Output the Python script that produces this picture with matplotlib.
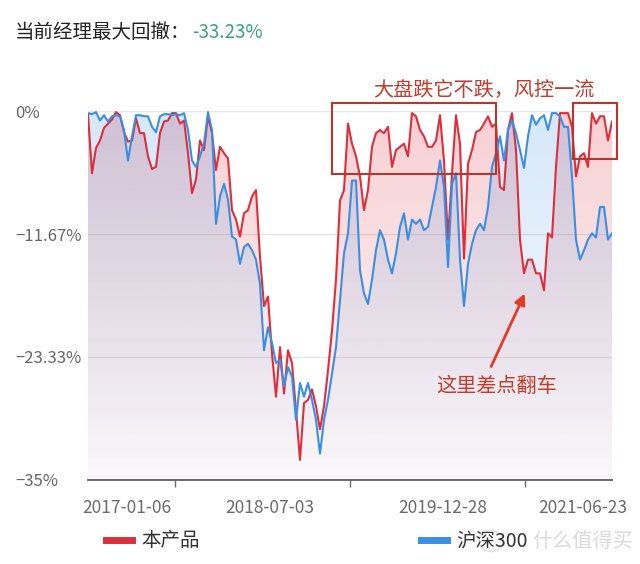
import numpy as np
import matplotlib
matplotlib.use('Agg')
import matplotlib.pyplot as plt
import matplotlib.colors as mcolors
from matplotlib.patches import Rectangle, FancyArrowPatch, Circle

# 中文字体 + 后备字体
plt.rcParams['font.family'] = ['Noto Sans CJK SC', 'DejaVu Sans']

# 回撤数据(%)：本产品 / 沪深300，按时间顺序等间隔读取
product_dd = [
    -0.3, -5.9, -3.5, -2.8, -1.6, -1.2, -0.8, -0.1, -0.4, -2.0,
    -2.9, -2.8, -0.7, -2.1, -2.1, -4.3, -5.5, -5.3, -2.1, -1.0,
    -0.9, -0.2, -0.2, -1.2, -0.9, -4.0, -7.8, -6.5, -2.8, -3.7,
    -0.5, -2.1, -5.6, -3.4, -4.0, -4.5, -9.4, -10.3, -11.9, -9.7,
    -9.4, -8.1, -7.5, -13.8, -18.5, -17.6, -23.0, -27.1, -22.4, -26.8,
    -22.7, -23.9, -28.4, -33.1, -27.7, -27.4, -26.4, -28.0, -30.2, -28.0,
    -24.6, -20.8, -16.0, -8.5, -7.5, -1.2, -3.1, -4.3, -6.2, -9.4,
    -7.5, -3.4, -2.1, -1.8, -2.1, -1.5, -5.3, -3.7, -3.4, -3.1,
    -4.3, -0.2, -0.5, -1.8, -2.4, -3.4, -3.4, -2.8, -0.4, -4.7,
    -12.2, -5.9, -0.4, -3.1, -14.0, -5.0, -3.7, -2.0, -1.8, -1.2,
    -0.5, -1.5, -1.2, -7.2, -7.5, -1.8, -0.2, -3.7, -12.2, -15.4,
    -14.1, -14.1, -15.4, -15.4, -17.0, -11.6, -12.0, -5.3, -0.2, -0.2,
    -0.2, -1.5, -6.2, -4.3, -4.0, -5.3, -0.2, -1.2, -0.5, -0.5,
    -2.8, -1.0,
]
hs300_dd = [
    -0.2, -0.3, -0.1, -0.9, -0.4, -1.0, -0.5, -0.4, -0.5, -1.8,
    -4.7, -2.4, -0.4, -0.4, -0.5, -0.5, -1.5, -2.0, -0.5, -0.3,
    -0.3, -0.4, -0.3, -0.4, -0.2, -1.8, -4.7, -5.3, -4.3, -3.1,
    -0.1, -1.8, -10.7, -8.1, -6.9, -8.4, -11.9, -12.2, -14.5, -12.9,
    -12.6, -13.2, -14.1, -16.4, -22.7, -20.5, -22.0, -23.9, -23.6, -26.1,
    -24.3, -25.2, -29.3, -25.8, -27.1, -25.8, -27.4, -29.3, -32.5, -29.3,
    -27.4, -24.9, -22.4, -17.9, -13.5, -11.6, -6.6, -6.6, -15.1, -17.3,
    -18.3, -16.0, -13.2, -11.3, -12.2, -14.1, -15.4, -13.5, -11.0, -9.7,
    -12.2, -10.3, -10.7, -10.3, -11.3, -11.0, -9.1, -7.2, -4.7, -7.2,
    -14.8, -6.9, -5.9, -14.1, -18.5, -14.5, -12.6, -11.3, -10.7, -11.3,
    -9.1, -5.3, -4.0, -2.4, -4.7, -1.8, -0.9, -2.1, -3.7, -5.4,
    -2.4, -0.4, -1.3, -0.7, -0.4, -1.8, -0.2, -0.2, -0.5, -1.5,
    -1.5, -6.2, -12.2, -14.1, -13.2, -12.2, -11.6, -12.0, -9.1, -9.1,
    -12.2, -11.6,
]
date_labels = ['2017-01-06', '2018-07-03', '2019-12-28', '2021-06-23']
y_ticks = [0, -11.67, -23.33, -35]
y_labels = ['0%', '\u221211.67%', '\u221223.33%', '\u221235%']
series_names = ['本产品', '沪深300']
red = '#dc2f3c'
blue = '#3a8fe4'
Y_MIN = -35


def gradient_fill(ax, x, y, color, a_top, a_bot):
    # 线下方到底部的渐变填充
    poly = ax.fill_between(x, y, Y_MIN, facecolor='none', edgecolor='none')
    grad = np.zeros((200, 1, 4))
    grad[:, :, :3] = mcolors.to_rgb(color)
    grad[:, 0, 3] = np.linspace(a_top, a_bot, 200)
    im = ax.imshow(grad, aspect='auto', origin='upper', interpolation='bilinear',
                   extent=[x[0], x[-1], Y_MIN, 0], zorder=1)
    im.set_clip_path(poly.get_paths()[0], transform=ax.transData)


fig = plt.figure(figsize=(6.4, 5.64), dpi=100)
ax = fig.add_axes([88 / 640, 1 - 480 / 564, 524 / 640, 369 / 564])

x = np.arange(len(product_dd))
n = len(x) - 1

gradient_fill(ax, x, product_dd, red, 0.23, 0.02)
gradient_fill(ax, x, hs300_dd, blue, 0.21, 0.02)
ax.plot(x, product_dd, color=red, lw=1.5, zorder=3, label=series_names[0])
ax.plot(x, hs300_dd, color=blue, lw=1.5, zorder=4, label=series_names[1])

ax.set_xlim(0, n)
ax.set_ylim(Y_MIN, 0)

# 坐标轴样式
for s in ['top', 'right', 'left']:
    ax.spines[s].set_visible(False)
ax.spines['bottom'].set_color('#6a6a6a')
ax.spines['bottom'].set_linewidth(1.4)
ax.set_yticks(y_ticks, y_labels)
ax.yaxis.grid(True, color='#e6e6e6', lw=1)
ax.set_axisbelow(True)
ax.tick_params(axis='y', length=0, pad=52.5, labelsize=12, labelcolor='#666666')
for lbl in ax.get_yticklabels():
    lbl.set_horizontalalignment('left')

ax.set_xticks([n * f for f in (0.0744, 0.347, 0.677, 0.945)], date_labels)
ax.set_xticks([n / 6, n / 2, n * 5 / 6], minor=True)
ax.tick_params(axis='x', which='major', length=0, pad=14, labelsize=12.5, labelcolor='#6a6a6a')
ax.tick_params(axis='x', which='minor', length=5, width=1, color='#6a6a6a')

# 标题
fig.text(15 / 640, 1 - 32 / 564, '当前经理最大回撤：', fontsize=14, color='#222222', va='center')
fig.text(192 / 640, 1 - 32 / 564, '-33.23%', fontsize=13.5, color='#3aa57b', va='center')

# 图例
leg = fig.legend(loc='center left', bbox_to_anchor=(106 / 640, 1 - 541 / 564), ncol=2,
                 frameon=False, fontsize=14, handlelength=1.35, handletextpad=0.45,
                 columnspacing=11.4, borderpad=0, borderaxespad=0)
for h in leg.get_lines():
    h.set_linewidth(5)
for t in leg.get_texts():
    t.set_color('#333333')

# 水印
fig.add_artist(Circle((491 / 640, 1 - 541 / 564), 12 / 640, transform=fig.transFigure,
                      fc=(1, 1, 1, 0.5), ec='#e0e0e0', lw=1))
fig.text(532 / 640, 1 - 541 / 564, '什么值得买', fontsize=14.5, color='#dadada', va='center')

# 批注
note_color = '#c23b2b'
fig.add_artist(Rectangle((332 / 640, 1 - 174 / 564), 164 / 640, 71 / 564, transform=fig.transFigure,
                         fill=False, ec='#b8362b', lw=1.5))
fig.add_artist(Rectangle((573 / 640, 1 - 159 / 564), 44 / 640, 56 / 564, transform=fig.transFigure,
                         fill=False, ec='#b8362b', lw=1.5))
fig.text(484 / 640, 1 - 90 / 564, '大盘跌它不跌，风控一流', fontsize=14.5, color=note_color,
         ha='center', va='center')
fig.text(497 / 640, 1 - 387 / 564, '这里差点翻车', fontsize=14.5, color=note_color,
         ha='center', va='center')
fig.add_artist(FancyArrowPatch((490 / 640, 1 - 369 / 564), (526 / 640, 1 - 291 / 564),
                               transform=fig.transFigure, arrowstyle='-|>', mutation_scale=16,
                               color='#e23a26', lw=2))

fig.savefig('out.png', dpi=100)
